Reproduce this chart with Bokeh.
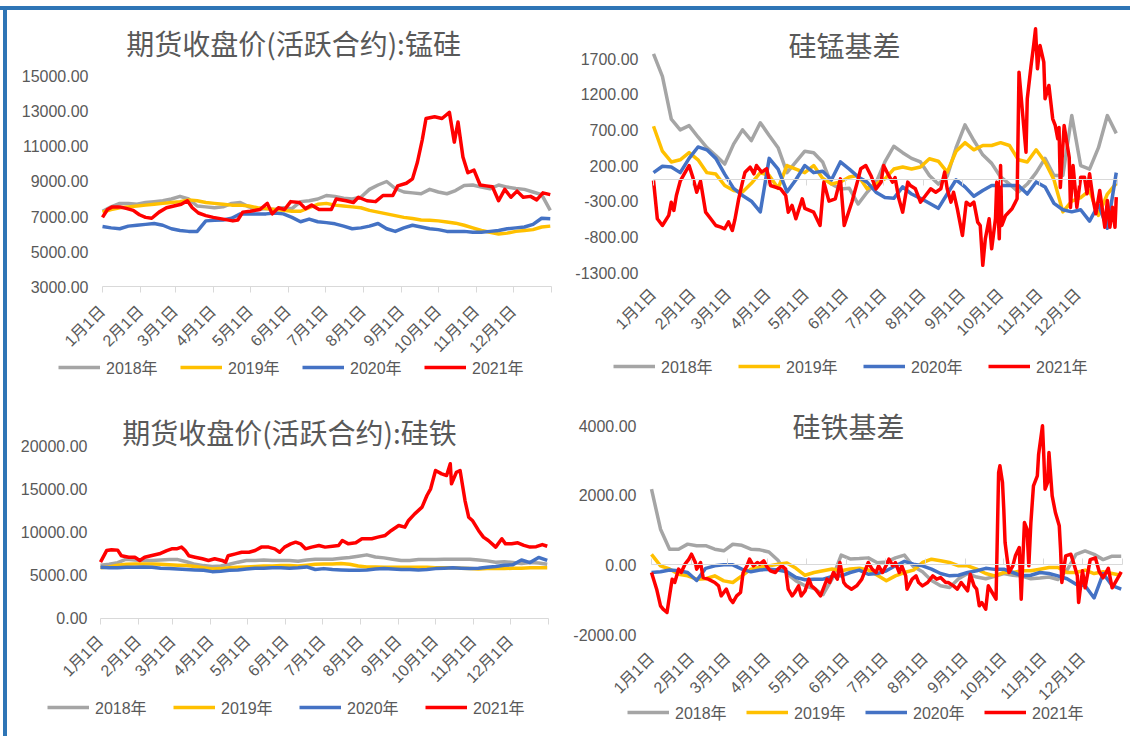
import math
from bokeh.plotting import figure
from bokeh.models import (FixedTicker, Legend, LegendItem, Label, LinearAxis, Div,
                          Range1d, NumeralTickFormatter)
from bokeh.layouts import row, column
from bokeh.embed import file_html
from bokeh.resources import INLINE

# ---------------- data ----------------
years = ["2018年", "2019年", "2020年", "2021年"]
colors = ["#A5A5A5", "#FFC000", "#4472C4", "#FF0000"]

month_days = [0, 31, 59, 90, 120, 151, 181, 212, 243, 273, 304, 334, 365]
month_labels = ["1月1日", "2月1日", "3月1日", "4月1日", "5月1日", "6月1日", "7月1日",
                "8月1日", "9月1日", "10月1日", "11月1日", "12月1日", ""]

# weekly sampling grid (day of year)
days = [0, 7, 14, 21, 28, 35, 42, 49, 56, 63, 70, 77, 84, 91, 98, 105, 112, 119, 126,
        133, 140, 147, 154, 161, 168, 175, 182, 189, 196, 203, 210, 217, 224, 231, 238,
        245, 252, 259, 266, 273, 280, 287, 294, 301, 308, 315, 322, 329, 336, 343, 350,
        357, 364]

# 期货收盘价(活跃合约):锰硅
mnsi_2018 = [7300, 7550, 7750, 7750, 7700, 7800, 7850, 7900, 8000, 8150,
             8000, 7600, 7550, 7500, 7550, 7750, 7800, 7550, 7400, 7450,
             7400, 7500, 7450, 7850, 7900, 8000, 8200, 8150, 8050, 8000,
             8100, 8550, 8800, 9000, 8600, 8400, 8350, 8300, 8550, 8400,
             8300, 8480, 8770, 8800, 8680, 8580, 8800, 8680, 8600, 8550,
             8400, 8250, 7350]
mnsi_2019 = [7250, 7400, 7500, 7550, 7600, 7650, 7700, 7750, 7800, 7850,
             7950, 7900, 7800, 7750, 7700, 7650, 7650, 7600, 7500, 7450,
             7400, 7350, 7300, 7300, 7500, 7700, 7750, 7650, 7600, 7550,
             7500, 7350, 7250, 7150, 7050, 6950, 6880, 6800, 6780, 6750,
             6680, 6620, 6500, 6350, 6200, 6100, 6000, 6050, 6150, 6200,
             6250, 6400, 6450]
mnsi_2020 = [6430, 6350, 6300, 6450, 6500, 6550, 6600, 6500, 6300, 6200,
             6150, 6150, 6750, 6780, 6800, 6900, 7150, 7150, 7150, 7150,
             7200, 7150, 6950, 6700, 6850, 6700, 6650, 6580, 6450, 6300,
             6350, 6450, 6600, 6300, 6150, 6350, 6500, 6400, 6300, 6250,
             6150, 6150, 6150, 6100, 6100, 6150, 6200, 6300, 6350, 6400,
             6550, 6900, 6870]
mnsi_2021_days = [0, 4, 8, 14, 20, 25, 30, 35, 40, 46, 52, 58, 64, 69, 73, 78, 84, 90,
                  98, 106, 110, 114, 120, 128, 134, 138, 143, 148, 153, 160, 165, 170,
                  176, 186, 190, 198, 204, 208, 215, 222, 228, 236, 240, 247, 252, 256,
                  260, 263, 270, 276, 282, 286, 289, 293, 297, 302, 307, 312, 317, 322,
                  327, 332, 337, 342, 348, 353, 358, 364]
mnsi_2021 = [6950, 7400, 7550, 7550, 7450, 7350, 7100, 6950, 6900, 7250,
             7500, 7600, 7700, 7900, 7500, 7200, 7050, 6950, 6850, 6750,
             6800, 7250, 7300, 7400, 7750, 7150, 7500, 7400, 7850, 7800,
             7450, 7650, 7400, 7400, 8000, 7900, 7800, 8100, 7900, 7850,
             8200, 8200, 8750, 8900, 9150, 10100, 11400, 12600, 12700, 12600,
             12950, 11250, 12400, 10400, 9500, 9650, 8800, 8750, 8700, 7900,
             8550, 8100, 8450, 8100, 8150, 7950, 8350, 8250]

# 硅锰基差
mnsi_basis_2018 = [1766, 1450, 850, 700, 760, 600, 450, 340, 220, 500,
                   700, 550, 800, 620, 450, 100, 250, 400, 380, 250,
                   -60, -130, -120, -340, -174, -40, 250, 470, 380, 300,
                   250, 60, -60, 50, 450, 770, 550, 350, 230, 40,
                   -60, -170, -60, 100, 300, 60, 60, 900, 200, 150,
                   450, 900, 650]
mnsi_basis_2019 = [750, 400, 250, 280, 380, 280, 100, 80, -80, -150,
                   -170, -50, 100, 60, -120, 200, 150, 100, 200, 20,
                   -60, -30, 40, 60, -127, -60, 13, 150, 180, 150,
                   180, 294, 260, 107, 400, 520, 420, 480, 480, 520,
                   480, 280, 250, 420, 250, 0, -450, -300, -250, -150,
                   -500, -200, -50]
mnsi_basis_2020 = [100, 190, 180, 100, 300, 460, 420, 300, 80, -120,
                   -220, -300, -450, 300, 150, -170, 0, 200, 100, 120,
                   0, 250, 150, 40, -33, -174, -250, -260, -100, -200,
                   -260, -330, -400, -200, 0, -100, -230, -150, -80, -80,
                   -80, -80, -200, -30, -100, -330, -420, -450, -420, -580,
                   -350, -680, 100]
mnsi_basis_2021_days = [0, 3, 7, 12, 14, 16, 18, 21, 25, 28, 31, 34, 37, 41, 45, 49, 53,
                        56, 59, 62, 64, 67, 70, 72, 76, 79, 81, 85, 89, 92, 100, 104,
                        106, 109, 112, 117, 119, 126, 131, 134, 138, 143, 147, 150, 156,
                        161, 163, 167, 171, 175, 179, 181, 185, 188, 190, 193, 196, 200,
                        202, 206, 210, 214, 218, 222, 226, 229, 231, 234, 236, 239, 243,
                        246, 249, 252, 255, 257, 259, 261, 264, 266, 269, 270, 272, 273,
                        274, 277, 282, 286, 287.5, 290, 293, 294, 297, 299, 300.5, 302,
                        304, 307, 308, 311, 314, 316, 318, 319, 320, 323, 327, 328, 330,
                        333, 336, 339, 341, 343, 346, 348, 351, 355, 357, 359, 361, 363,
                        364]
mnsi_basis_2021 = [-10, -547, -641, -500, -314, -430, -220, -20, 107, 200, 30, -174,
                   -20, -454, -547, -641, -665, -687, -590, -711, -560, -267, -33, 107,
                   177, 83, 200, 107, 154, -80, -127, -220, -454, -360, -547, -267,
                   -400, -454, -641, -33, -300, -267, 13, -641, -314, 13, 154, 200,
                   60, -127, -33, 200, 60, -33, 30, -267, -454, -33, -80, -127, -314,
                   -220, -127, -174, -127, 107, -127, -314, -174, -407, -781, -314,
                   -360, -314, -594, -641, -1200, -828, -547, -968, -547, -33, -828,
                   200, -641, -500, -407, -267, 1509, 995, 387, 1135, 1602, 1883, 2116,
                   1556, 1883, 1650, 1135, 1322, 855, 761, 574, 733, -108, 761, 312,
                   -387, 200, -385, 36, 36, -197, 83, -300, -477, -150, -665, -291,
                   -665, -385, -665, -244]

# 期货收盘价(活跃合约):硅铁
fesi_2018 = [6200, 6300, 6500, 6900, 6800, 6750, 6750, 6800, 6850, 6850,
             6600, 6300, 6150, 6050, 6100, 6300, 6550, 6750, 6750, 6800,
             6750, 6750, 6750, 6650, 6800, 6900, 6900, 6900, 7000, 7100,
             7250, 7400, 7150, 7050, 6900, 6750, 6750, 6850, 6850, 6850,
             6900, 6900, 6900, 6900, 6800, 6700, 6550, 6600, 6500, 6400,
             6500, 6450, 6300]
fesi_2019 = [5900, 6000, 6200, 6300, 6350, 6350, 6350, 6300, 6250, 6200,
             6150, 6050, 5900, 5750, 5800, 5900, 5950, 6000, 6050, 6100,
             6100, 6150, 6150, 6100, 6200, 6300, 6350, 6350, 6400, 6300,
             6100, 6000, 6000, 5950, 5950, 5950, 5950, 5950, 5950, 5900,
             5900, 5900, 5850, 5800, 5750, 5800, 5800, 5800, 5850, 5850,
             5900, 5900, 5900]
fesi_2020 = [5950, 5900, 5900, 5950, 5950, 6000, 5950, 5850, 5800, 5750,
             5700, 5650, 5600, 5450, 5500, 5600, 5650, 5750, 5850, 5850,
             5900, 5900, 5850, 5900, 6000, 5700, 5800, 5700, 5650, 5600,
             5600, 5650, 5750, 5800, 5750, 5700, 5700, 5650, 5700, 5800,
             5850, 5900, 5850, 5800, 5850, 5950, 6050, 6200, 6250, 6800,
             6500, 7100, 6750]
fesi_2021_days = [0, 5, 9, 14, 17, 23, 28, 32, 36, 41, 48, 54, 58, 62, 66, 69, 72, 77,
                  83, 88, 93, 99, 102, 104, 110, 115, 121, 126, 131, 137, 142, 146,
                  150, 155, 159, 163, 167, 172, 178, 183, 189, 194, 197, 202, 208, 213,
                  221, 226, 232, 237, 243, 248, 251, 256, 262, 266, 269, 273, 278, 282,
                  285, 286, 290, 293, 295, 297, 300, 303, 308, 312, 316, 322, 327, 330,
                  335, 340, 345, 350, 355, 360, 364]
fesi_2021 = [6550, 7900, 8000, 7950, 7300, 7130, 7130, 6750, 7130, 7300,
             7520, 7900, 8100, 8100, 8300, 7900, 7300, 7130, 6940, 6750,
             6940, 6750, 6550, 7300, 7520, 7700, 7700, 7900, 8300, 8300,
             8100, 7700, 8300, 8680, 8880, 8680, 8100, 8300, 8490, 8300,
             8400, 8490, 9070, 8680, 8800, 9270, 9270, 9460, 9660, 10240,
             10820, 10620, 11400, 12170, 12950, 14300, 15080, 17210, 16820, 16630,
             17990, 15660, 17000, 17210, 15470, 13720, 11780, 11400, 10240, 9460,
             9070, 8300, 9270, 8680, 8680, 8800, 8500, 8300, 8350, 8600, 8400]

# 硅铁基差
fesi_basis_2018 = [2172, 1024, 450, 450, 594, 546, 550, 450, 402, 590,
                   560, 450, 430, 370, 130, -250, -460, -600, -680, -850,
                   -400, 280, 170, 180, 200, 60, 80, 200, 280, -50,
                   -200, -450, -600, -650, -400, -250, -350, -400, -330, -250,
                   -300, -320, -400, -380, -350, -420, -150, 300, 400, 300,
                   150, 250, 250]
fesi_basis_2019 = [300, -30, -120, -270, -316, -411, -400, -316, -460, -507,
                   -316, -124, -70, -30, 19, 50, -100, -300, -220, -170,
                   -120, -170, -120, -100, -150, -300, -459, -316, -220, -150,
                   67, 163, 115, 67, -28, -28, -124, -250, -316, -220,
                   -220, -170, -170, -124, -76, -76, -220, -220, -150, -250,
                   -200, -250, -300]
fesi_basis_2020 = [-220, -200, -150, -170, -220, -450, -100, -28, 0, 0,
                   -124, -200, -150, -124, -150, -200, -364, -430, -411, -411,
                   -330, -316, -220, -150, -270, -250, -170, -28, 100, 19,
                   -28, -124, -250, -316, -300, -220, -170, -100, -130, -124,
                   -220, -316, -300, -220, -250, -316, -400, -555, -600, -950,
                   -250, -600, -700]
fesi_basis_2021_days = [0, 4, 7, 9, 12, 14, 16, 18, 21, 23, 26, 29, 31, 34, 35, 38, 40,
                        44, 49, 52, 54, 58, 61, 63, 66, 69, 71, 74, 76, 79, 82, 84, 87,
                        89, 92, 96, 98, 101, 104, 106, 109, 111, 114, 116, 119, 122, 124,
                        127, 131, 133, 136, 138, 141, 144, 146, 149, 151, 155, 159, 162,
                        163, 168, 171, 174, 176, 179, 183, 184, 187, 189, 192, 194, 197,
                        198, 202, 205, 207, 210, 214, 218, 221, 224, 228, 230, 234, 237,
                        240, 242, 245, 247, 250, 252, 254, 256, 259, 261, 264, 267, 269,
                        270, 272, 273, 274, 276, 277, 280, 282, 285, 286.5, 289, 291,
                        292.4, 294, 296, 299, 300, 303, 304, 305, 307, 308, 310.5, 313,
                        316, 317, 318, 321, 325, 327, 330, 331, 334, 336, 340, 344, 347,
                        350, 354, 357, 361, 364]
fesi_basis_2021 = [-220, -698, -1177, -1273, -1368, -890, -411, -507, -124, -220, 19,
                   163, 306, 67, -124, 67, -364, -411, -507, -603, -890, -698, -986,
                   -1082, -890, -794, -220, -28, 163, -28, 67, 19, 115, -28, -170,
                   -220, -124, -28, -124, -698, -890, -794, -603, -890, -746, -411,
                   -603, -698, -890, -698, -411, -507, -220, -411, 67, -507, -603,
                   -698, -603, -459, -411, 67, -124, -220, -28, -220, 67, 163, -28,
                   67, -220, -28, -316, -698, -411, -316, -507, -603, -507, -316,
                   -411, -364, -507, -507, -603, -698, -507, -603, -746, -268, -603,
                   -698, -1177, -1082, -1273, -603, -794, -986, 2651, 2842, 2364,
                   1598, 641, 67, -220, -28, 259, 498, -986, 1215, 1024, -28, 1215,
                   2268, 2555, 3178, 3991, 3130, 2172, 2364, 3225, 1981, 1503, 1120,
                   450, -507, 259, 306, 67, -316, -1082, -170, -660, 150, 200, -200,
                   -370, -100, -660, -400, -200]

# axis ticks
mnsi_yticks = [3000, 5000, 7000, 9000, 11000, 13000, 15000]
mnsi_basis_yticks = [-1300, -800, -300, 200, 700, 1200, 1700]
fesi_yticks = [0, 5000, 10000, 15000, 20000]
fesi_basis_yticks = [-2000, 0, 2000, 4000]

# ---------------- styling ----------------
TEXT = "#595959"
NUM_FONT = "Liberation Sans, Noto Sans CJK SC"
CJK_FONT = "Noto Sans CJK SC"
AXIS_GRAY = "#D9D9D9"
BLUE_FRAME = "#2E75B6"


def make_panel(title, series, size, xr, yr, yticks, ylab_standoff,
               axis_at, tick_dir, label_at, title_xy, legend_loc, legend_spacing):
    """Whole canvas is the plot frame; axes are pinned with fixed_location."""
    w, h = size
    p = figure(width=w, height=h, x_range=Range1d(*xr), y_range=Range1d(*yr),
               output_backend="svg", toolbar_location=None,
               min_border_left=0, min_border_right=0,
               min_border_top=0, min_border_bottom=0)
    p.xgrid.visible = False
    p.ygrid.visible = False
    p.outline_line_color = None
    p.background_fill_color = "white"
    p.border_fill_color = "white"

    rends = []
    for (xs, ys), c in zip(series, colors):
        rends.append(p.line(xs, ys, line_color=c, line_width=3.5, line_join="round"))

    yax = p.yaxis[0]
    yax.fixed_location = 0
    yax.ticker = FixedTicker(ticks=yticks)
    yax.formatter = NumeralTickFormatter(format="0.00")
    yax.axis_line_color = None
    yax.major_tick_line_color = None
    yax.minor_tick_line_color = None
    yax.major_tick_in = 0
    yax.major_tick_out = 0
    yax.major_label_text_font_size = "16px"
    yax.major_label_text_font = NUM_FONT
    yax.major_label_text_color = TEXT
    yax.major_label_standoff = ylab_standoff

    # category (date) labels, written low
    xax = p.xaxis[0]
    xax.fixed_location = label_at
    xax.bounds = (0, 365)
    xax.ticker = FixedTicker(ticks=month_days)
    xax.major_label_overrides = {d: l for d, l in zip(month_days, month_labels)}
    xax.major_label_orientation = math.pi / 4
    xax.major_label_text_font_size = "16px"
    xax.major_label_text_font = NUM_FONT
    xax.major_label_text_color = TEXT
    xax.minor_tick_line_color = None
    xax.axis_line_color = None
    xax.major_tick_line_color = None
    xax.major_tick_in = 0
    xax.major_tick_out = 0
    xax.major_label_standoff = 0

    # horizontal axis line with month ticks
    zax = LinearAxis(fixed_location=axis_at, bounds=(0, 365),
                     ticker=FixedTicker(ticks=month_days),
                     axis_line_color=AXIS_GRAY, major_tick_line_color=AXIS_GRAY,
                     minor_tick_line_color=None,
                     major_tick_in=tick_dir[0], major_tick_out=tick_dir[1],
                     major_label_overrides={d: "" for d in month_days},
                     major_label_text_font_size="1px", major_label_standoff=0)
    p.add_layout(zax, "below")

    p.add_layout(Label(x=title_xy[0], y=title_xy[1], text=title, text_align="center",
                       text_baseline="middle", text_font_size="28px",
                       text_font=CJK_FONT, text_color=TEXT))

    legend = Legend(items=[LegendItem(label=yname, renderers=[r])
                           for yname, r in zip(years, rends)],
                    location=legend_loc, orientation="horizontal",
                    glyph_width=42, glyph_height=20, label_width=54, label_height=20,
                    label_standoff=6, spacing=legend_spacing, padding=0, margin=0,
                    border_line_color=None, background_fill_alpha=0,
                    label_text_font_size="16px", label_text_font=NUM_FONT,
                    label_text_color=TEXT)
    p.add_layout(legend)
    return p


# top row: canvas y 10..380, bottom row: 380..736
tl = make_panel("期货收盘价(活跃合约):锰硅",
                [(days, mnsi_2018), (days, mnsi_2019), (days, mnsi_2020),
                 (mnsi_2021_days, mnsi_2021)],
                (559, 370), (-77.23, 377.2), (-2371, 18771), mnsi_yticks, 14,
                3000, (0, 6), 1743, (155.3, 16886), (51, 1), 20)

tr = make_panel("硅锰基差",
                [(days, mnsi_basis_2018), (days, mnsi_basis_2019),
                 (days, mnsi_basis_2020), (mnsi_basis_2021_days, mnsi_basis_2021)],
                (564, 370), (-68.44, 375.2), (-2814, 2373), mnsi_basis_yticks, 15,
                0, (0, 6), -1566, (150.3, 1896), (47, 2), 23)

bl = make_panel("期货收盘价(活跃合约):硅铁",
                [(days, fesi_2018), (days, fesi_2019), (days, fesi_2020),
                 (fesi_2021_days, fesi_2021)],
                (559, 356), (-75.77, 379.7), (-13721, 27674), fesi_yticks, 13,
                0, (0, 6), -2326, (154.0, 21628), (40, 17), 24)

br = make_panel("硅铁基差",
                [(days, fesi_basis_2018), (days, fesi_basis_2019),
                 (days, fesi_basis_2020), (fesi_basis_2021_days, fesi_basis_2021)],
                (564, 356), (-65.87, 371.2), (-4928, 5292), fesi_basis_yticks, 15,
                0, (6, 0), -2603, (152.7, 4000), (61, 12), 17)

top_gap = Div(text="", width=1130, height=6, margin=0)
top_bar = Div(text="", width=1130, height=4, margin=0,
              styles={"background-color": BLUE_FRAME})
left_gap = Div(text="", width=3, height=726, margin=0)
left_bar = Div(text="", width=4, height=726, margin=0,
               styles={"background-color": BLUE_FRAME})
grid = column(row(tl, tr), row(bl, br))
p = column(top_gap, top_bar, row(left_gap, left_bar, grid))

open("out.html", "w").write(file_html(p, INLINE))
